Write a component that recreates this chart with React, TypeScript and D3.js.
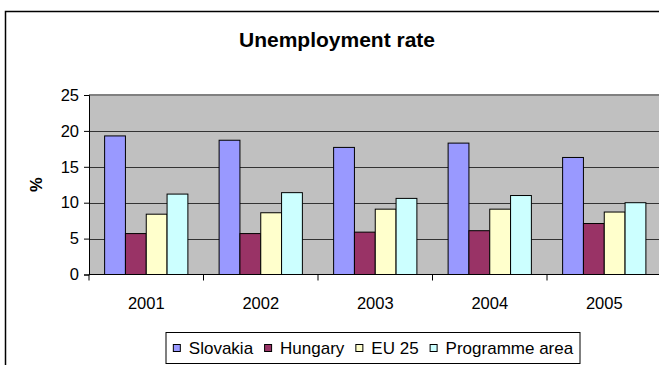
import React, { useEffect, useRef } from "react";
import * as d3 from "d3";

const years = ["2001", "2002", "2003", "2004", "2005"];
const seriesNames = ["Slovakia", "Hungary", "EU 25", "Programme area"];
const slovakia = [19.3, 18.7, 17.7, 18.3, 16.3];
const hungary = [5.7, 5.7, 5.9, 6.1, 7.1];
const eu25 = [8.4, 8.6, 9.1, 9.1, 8.7];
const programme = [11.2, 11.4, 10.6, 11.0, 10.0];
const yTicks = [0, 5, 10, 15, 20, 25];
const colors = ["#9999FF", "#993366", "#FFFFCC", "#CCFFFF"];

const FONT = "'Liberation Sans', Arial, sans-serif";

export default function App() {
  const ref = useRef<SVGSVGElement>(null);

  useEffect(() => {
    const svg = d3.select(ref.current);
    svg.selectAll("*").remove();
    const values = [slovakia, hungary, eu25, programme];

    const left = 89, right = 661.5, top = 95, bottom = 274.5;

    // outer chart border
    svg.append("rect")
      .attr("x", 5.5).attr("y", 11.5).attr("width", 700).attr("height", 400)
      .attr("fill", "#fff").attr("stroke", "#000").attr("stroke-width", 1.5);

    // title
    svg.append("text")
      .attr("x", 239).attr("y", 47)
      .attr("font-family", FONT).attr("font-weight", "bold").attr("font-size", 21)
      .attr("fill", "#000")
      .text("Unemployment rate");

    const x = d3.scaleBand().domain(years).range([left, right]).paddingInner(0).paddingOuter(0);
    const x1 = d3.scaleBand().domain(seriesNames)
      .range([x.bandwidth() * 0.75 / 5.5, x.bandwidth() - x.bandwidth() * 0.75 / 5.5]);
    const y = d3.scaleLinear().domain([0, 25]).range([bottom, top]);

    // plot area
    svg.append("rect")
      .attr("x", left).attr("y", top).attr("width", right - left).attr("height", bottom - top)
      .attr("fill", "#C0C0C0");

    // gridlines
    svg.append("g").selectAll("line").data(yTicks.filter((t) => t > 0 && t < 25)).join("line")
      .attr("x1", left).attr("x2", right)
      .attr("y1", (d) => Math.round(y(d)) + 0.5).attr("y2", (d) => Math.round(y(d)) + 0.5)
      .attr("stroke", "#333").attr("stroke-width", 1);
    // top border
    svg.append("line").attr("x1", left).attr("x2", right)
      .attr("y1", y(25)).attr("y2", y(25))
      .attr("stroke", "#808080").attr("stroke-width", 2);

    // bars
    const g = svg.append("g");
    years.forEach((yr, i) => {
      seriesNames.forEach((s, j) => {
        const v = values[j][i];
        g.append("rect")
          .attr("x", (x(yr) as number) + (x1(s) as number))
          .attr("y", y(v))
          .attr("width", x1.bandwidth())
          .attr("height", y(0) - y(v))
          .attr("fill", colors[j])
          .attr("stroke", "#000").attr("stroke-width", 1);
      });
    });

    // y axis
    const yAxis = d3.axisLeft(y).tickValues(yTicks).tickSize(5).tickPadding(5);
    const ya = svg.append("g").attr("transform", `translate(${left},0)`).call(yAxis);
    ya.select(".domain").attr("stroke", "#000");
    ya.selectAll(".tick line").attr("stroke", "#000");
    ya.selectAll("text").attr("font-family", FONT).attr("font-size", 16.5).attr("fill", "#000");

    // x axis
    const xa = svg.append("g").attr("transform", `translate(0,${bottom})`);
    xa.append("line").attr("x1", left).attr("x2", right).attr("y1", 0).attr("y2", 0)
      .attr("stroke", "#000");
    const bounds = years.map((yr) => x(yr) as number).concat([right]);
    xa.selectAll("line.tk").data(bounds).join("line").attr("class", "tk")
      .attr("x1", (d) => d).attr("x2", (d) => d).attr("y1", 0).attr("y2", 6)
      .attr("stroke", "#000");
    xa.selectAll("text").data(years).join("text")
      .attr("x", (d) => (x(d) as number) + x.bandwidth() / 2)
      .attr("y", 34)
      .attr("text-anchor", "middle")
      .attr("font-family", FONT).attr("font-size", 16.5).attr("fill", "#000")
      .text((d) => d);

    // y label
    svg.append("text")
      .attr("transform", `translate(42,${(top + bottom) / 2}) rotate(-90)`)
      .attr("text-anchor", "middle")
      .attr("font-family", FONT).attr("font-weight", "bold").attr("font-size", 16.5)
      .attr("fill", "#000")
      .text("%");

    // legend
    const lx = 166, ly = 332.5, lw = 414, lh = 31;
    svg.append("rect").attr("x", lx).attr("y", ly).attr("width", lw).attr("height", lh)
      .attr("fill", "#fff").attr("stroke", "#000").attr("stroke-width", 1);
    const lg = svg.append("g");
    const items = seriesNames.map((s, j) => {
      const t = lg.append("text")
        .attr("font-family", FONT).attr("font-size", 17).attr("fill", "#000")
        .attr("y", ly + lh / 2 + 6)
        .text(s);
      const w = (t.node() as SVGTextElement).getComputedTextLength();
      return { t, w, j };
    });
    const sq = 7, gap1 = 9, gap2 = 11;
    const total = items.reduce((a, it) => a + sq + gap1 + it.w, 0) + gap2 * (items.length - 1);
    let cx = lx + lw / 2 - total / 2;
    items.forEach((it) => {
      lg.append("rect").attr("x", cx + 0.5).attr("y", ly + lh / 2 - 3.5)
        .attr("width", sq).attr("height", sq)
        .attr("fill", colors[it.j]).attr("stroke", "#000").attr("stroke-width", 1);
      cx += sq + gap1;
      it.t.attr("x", cx);
      cx += it.w + gap2;
    });
  }, []);

  return (
    <svg ref={ref} width={659} height={365} style={{ position: "absolute", left: 0, top: 0, background: "#fff" }} />
  );
}
